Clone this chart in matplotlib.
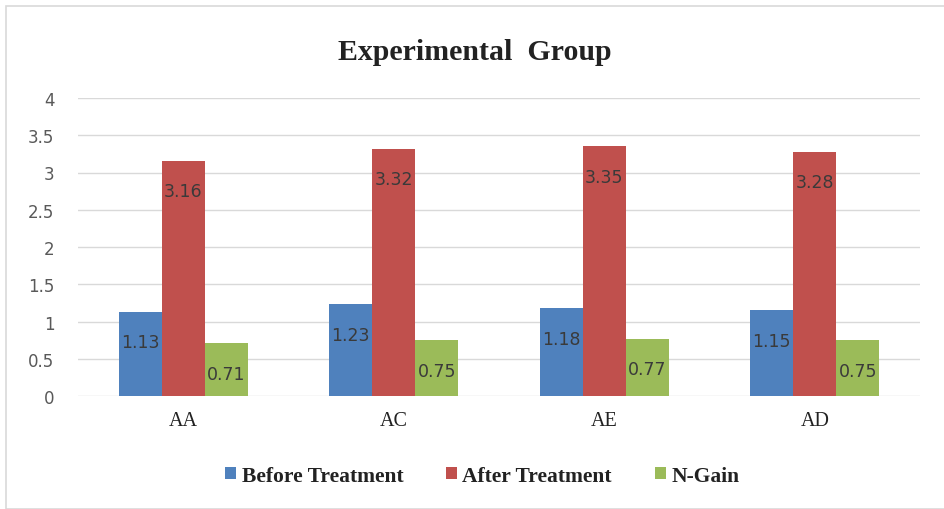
import numpy as np
import matplotlib.pyplot as plt
from matplotlib.patches import Rectangle

categories = ["AA", "AC", "AE", "AD"]
series_names = ["Before Treatment", "After Treatment", "N-Gain"]
before = [1.13, 1.23, 1.18, 1.15]
after = [3.16, 3.32, 3.35, 3.28]
ngain = [0.71, 0.75, 0.77, 0.75]
colors = ["#4F81BD", "#C0504D", "#9BBB59"]
yticks = [0, 0.5, 1, 1.5, 2, 2.5, 3, 3.5, 4]

fig = plt.figure(figsize=(9.44, 5.10), dpi=100)
ax = fig.add_axes([78/944, 1-397/510, (920-78)/944, (397-99)/510])

# light frame round the chart
fig.patches.append(Rectangle((6/944, 0.0), 1.0, 1-7/510, transform=fig.transFigure,
                             fill=False, edgecolor="#d9d9d9", linewidth=1.2))

x = np.arange(len(categories))
w = 0.205
for i, (vals, name) in enumerate(zip([before, after, ngain], series_names)):
    bars = ax.bar(x + (i-1)*w, vals, w, color=colors[i], label=name, zorder=2)
    for b, v in zip(bars, vals):
        ax.annotate(f"{v:.2f}", (b.get_x()+b.get_width()/2, v), xytext=(0, -22),
                    textcoords="offset points", ha="center", va="center",
                    fontsize=12.5, color="#3a3a3a", family="DejaVu Sans", zorder=3)

ax.set_xlim(-0.5, len(categories)-0.5)
ax.set_ylim(0, 4)
ax.set_yticks(yticks)
ax.set_yticklabels([f"{t:g}" for t in yticks], color="#595959", fontsize=12)
ax.set_xticks(x)
ax.set_xticklabels(categories, family="Liberation Serif", fontsize=14.5, color="#222222")
ax.tick_params(axis="y", length=0, pad=17)
ax.tick_params(axis="x", length=0, pad=11)
ax.grid(axis="y", color="#d9d9d9", linewidth=1, zorder=0)
for s in ax.spines.values():
    s.set_visible(False)

fig.text(0.503, 1-52/510, "Experimental  Group", ha="center", va="center",
         family="Liberation Serif", fontweight="bold", fontsize=21.5, color="#222222")

fig.legend(loc="center", bbox_to_anchor=(0.511, 1-477/510), ncol=3, frameon=False,
           prop={"family": "Liberation Serif", "weight": "bold", "size": 15.5},
           handlelength=0.5, handleheight=0.5, handletextpad=0.25, columnspacing=2.0,
           labelcolor="#222222")

fig.savefig("out.png", dpi=100)
